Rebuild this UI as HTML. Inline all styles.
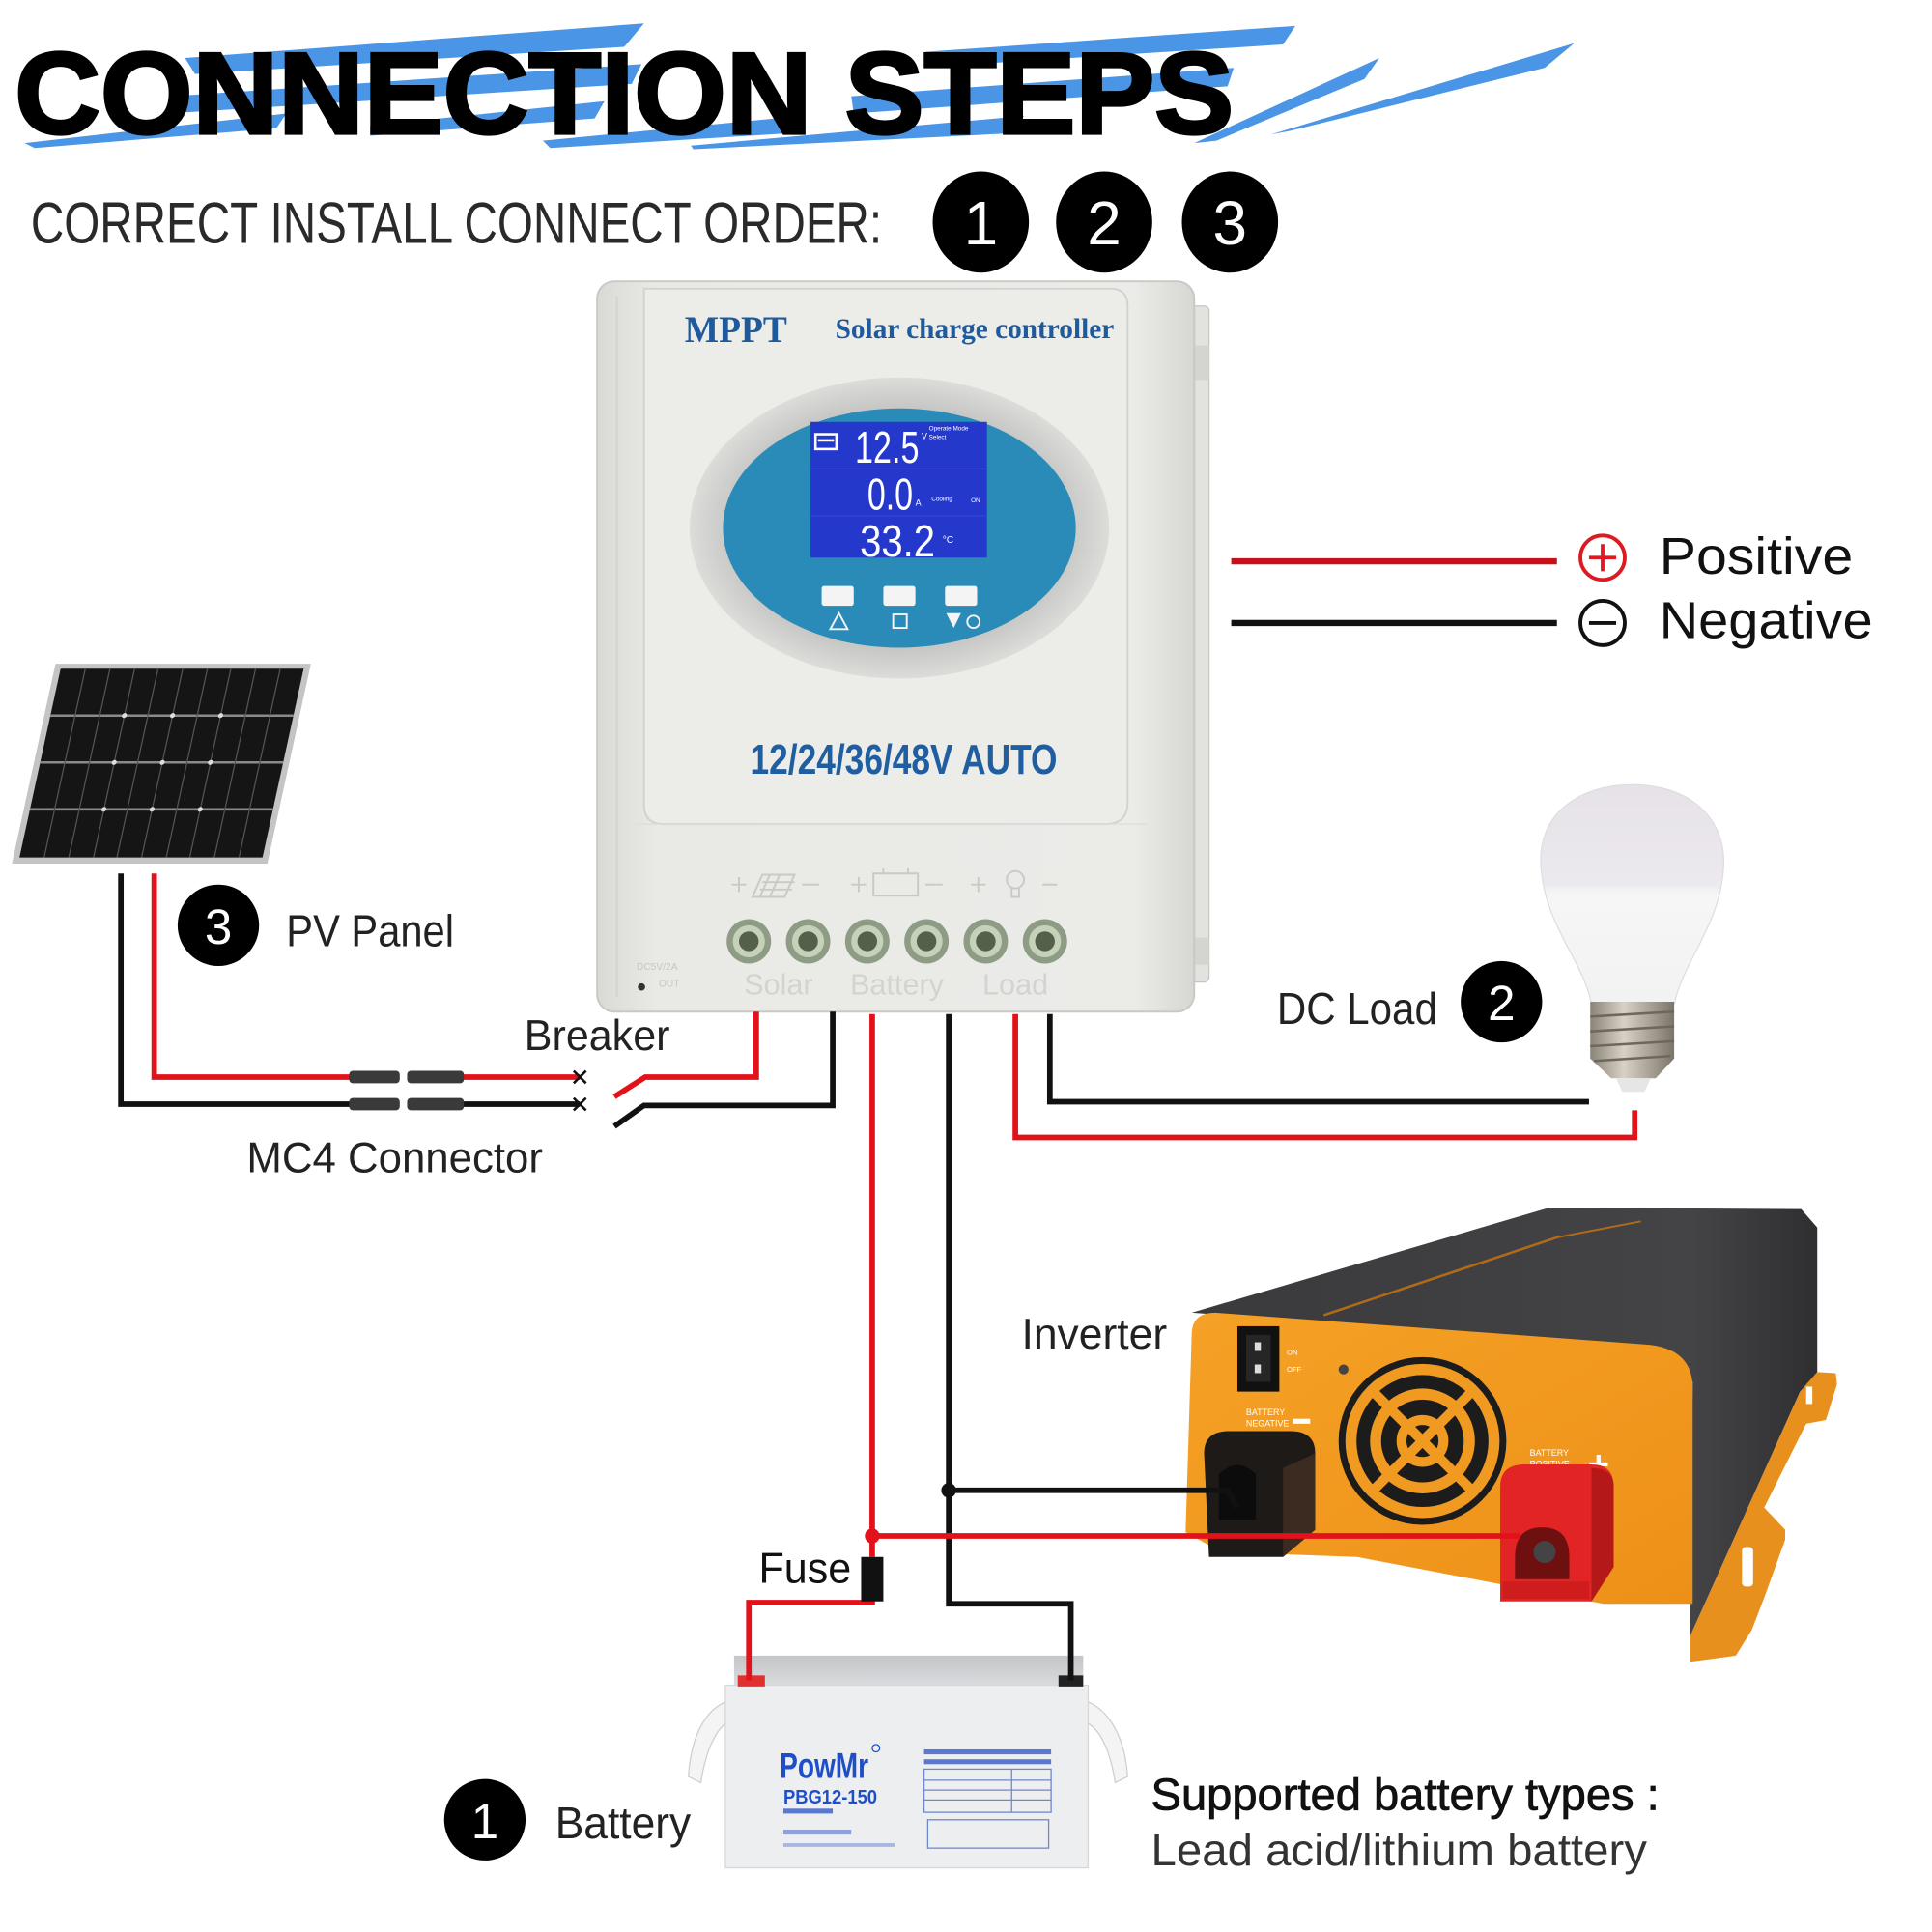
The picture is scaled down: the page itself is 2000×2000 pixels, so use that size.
<!DOCTYPE html>
<html><head><meta charset="utf-8"><style>
html,body{margin:0;padding:0;background:#fff;width:2000px;height:2000px;overflow:hidden}
svg{display:block}
</style></head><body>
<svg width="2000" height="2000" viewBox="0 0 1566 1566" xmlns="http://www.w3.org/2000/svg" font-family="'Liberation Sans', sans-serif">
<defs>
<linearGradient id="bodyG" x1="0" x2="1" y1="0" y2="0"><stop offset="0" stop-color="#d9d9d5"/><stop offset="0.1" stop-color="#e9e9e6"/><stop offset="0.9" stop-color="#ebebe8"/><stop offset="1" stop-color="#d6d6d2"/></linearGradient>
<radialGradient id="ringG" cx="0.5" cy="0.5" r="0.5"><stop offset="0.8" stop-color="#c6c7c5"/><stop offset="1" stop-color="#dcdcd9"/></radialGradient>
<linearGradient id="orG" x1="0" x2="1" y1="0" y2="1"><stop offset="0" stop-color="#f5a126"/><stop offset="1" stop-color="#ee9018"/></linearGradient>
<linearGradient id="darkG" x1="0" x2="1" y1="0" y2="0"><stop offset="0" stop-color="#3a3a3c"/><stop offset="0.8" stop-color="#444446"/><stop offset="1" stop-color="#2f2f31"/></linearGradient>
<linearGradient id="bulbG" x1="0" x2="0" y1="0" y2="1"><stop offset="0" stop-color="#e6e2e8"/><stop offset="0.45" stop-color="#ece9ee"/><stop offset="0.5" stop-color="#f6f6f6"/><stop offset="1" stop-color="#f2f2f2"/></linearGradient>
<linearGradient id="metalG" x1="0" x2="1" y1="0" y2="0"><stop offset="0" stop-color="#8a8378"/><stop offset="0.4" stop-color="#d8d2c6"/><stop offset="1" stop-color="#7a746a"/></linearGradient>
<linearGradient id="lidG" x1="0" x2="0" y1="0" y2="1"><stop offset="0" stop-color="#c4c5c7"/><stop offset="1" stop-color="#dcdde0"/></linearGradient>
</defs>
<rect width="1566" height="1566" fill="#fff"/>

<!-- title brush strokes -->
<g fill="#4a95e6">
<polygon points="150,47 522,19 506,38 158,60"/>
<polygon points="20,116 232,92 224,104 28,120"/>
<polygon points="140,78 520,52 512,68 136,92"/>
<polygon points="300,102 490,82 482,96 300,110"/>
<polygon points="440,114 650,94 640,108 446,120"/>
<polygon points="560,118 830,94 820,108 562,121"/>
<polygon points="750,42 1050,21 1040,36 758,54"/>
<polygon points="690,78 1000,55 995,70 692,92"/>
<polygon points="968,116 1118,47 1106,64 986,114"/>
<polygon points="1030,109 1276,35 1252,55 1046,106"/>
</g>
<text x="12" y="108" font-size="94" font-weight="bold" textLength="988" lengthAdjust="spacingAndGlyphs" fill="#000" stroke="#000" stroke-width="2.5">CONNECTION STEPS</text>

<!-- subtitle -->
<text x="25" y="197" font-size="47" textLength="690" lengthAdjust="spacingAndGlyphs" fill="#2a2a2a">CORRECT INSTALL CONNECT ORDER:</text>
<g fill="#000">
<ellipse cx="795" cy="180" rx="39" ry="41"/><ellipse cx="895" cy="180" rx="39" ry="41"/><ellipse cx="997" cy="180" rx="39" ry="41"/>
</g>
<g fill="#fff" font-size="50" text-anchor="middle">
<text x="795" y="198">1</text><text x="895" y="198">2</text><text x="997" y="198">3</text>
</g>

<!-- controller -->
<g>
<rect x="962" y="248" width="18" height="548" rx="4" fill="#e2e2de" stroke="#c6c6c2"/>
<rect x="966" y="280" width="14" height="28" fill="#d4d4d0"/>
<rect x="966" y="760" width="14" height="22" fill="#d4d4d0"/>
<rect x="484" y="228" width="484" height="592" rx="14" fill="url(#bodyG)" stroke="#c8c8c4" stroke-width="1.5"/>
<line x1="500" y1="240" x2="500" y2="808" stroke="#d2d2ce" stroke-width="1.5"/>
<path d="M522,234 H900 Q914,234 914,248 V650 Q914,668 896,668 H538 Q522,668 522,652 Z" fill="#ecece9" stroke="#d2d2ce" stroke-width="1.5"/>
<path d="M515,668 H930" stroke="#dcdcd8" stroke-width="1"/>
<text x="555" y="277" font-family="'Liberation Serif', serif" font-weight="bold" font-size="31" textLength="83" lengthAdjust="spacingAndGlyphs" fill="#1f5b9c">MPPT</text>
<text x="677" y="274" font-family="'Liberation Serif', serif" font-weight="bold" font-size="23" textLength="226" lengthAdjust="spacingAndGlyphs" fill="#1f5b9c">Solar charge controller</text>
<ellipse cx="729" cy="428" rx="170" ry="122" fill="url(#ringG)"/>
<ellipse cx="729" cy="428" rx="143" ry="97" fill="#2a8bb8"/>
<rect x="657" y="342" width="143" height="110" fill="#2538cc"/>
<line x1="657" y1="380" x2="800" y2="380" stroke="#3346d8" stroke-width="1"/>
<line x1="657" y1="418" x2="800" y2="418" stroke="#3346d8" stroke-width="1"/>
<rect x="661" y="352" width="17" height="12" fill="none" stroke="#fff" stroke-width="2"/>
<rect x="663" y="356" width="13" height="2" fill="#fff"/>
<g fill="#fff">
<text x="693" y="375" font-size="36" textLength="52" lengthAdjust="spacingAndGlyphs">12.5</text>
<text x="703" y="413" font-size="36" textLength="37" lengthAdjust="spacingAndGlyphs">0.0</text>
<text x="697" y="451" font-size="36" textLength="61" lengthAdjust="spacingAndGlyphs">33.2</text>
<text x="747" y="356" font-size="7">V</text>
<text x="742" y="410" font-size="7">A</text>
<text x="764" y="440" font-size="8">°C</text>
<text x="753" y="349" font-size="5">Operate Mode</text>
<text x="753" y="356" font-size="5">Select</text>
<text x="755" y="406" font-size="5">Cooling</text>
<text x="787" y="407" font-size="5">ON</text>
</g>
<g fill="#f4f4f4">
<rect x="666" y="475" width="26" height="16" rx="2"/>
<rect x="716" y="475" width="26" height="16" rx="2"/>
<rect x="766" y="475" width="26" height="16" rx="2"/>
</g>
<g fill="none" stroke="#f4f4f4" stroke-width="1.5">
<polygon points="680,497 673,510 687,510"/>
<rect x="724" y="498" width="11" height="11"/>
<circle cx="789" cy="504" r="5"/>
</g>
<polygon points="767,497 779,497 773,509" fill="#f4f4f4"/>
<text x="608" y="627" font-size="34" font-weight="bold" textLength="249" lengthAdjust="spacingAndGlyphs" fill="#1f5ea0">12/24/36/48V AUTO</text>
<g fill="none" stroke="#c9c9c5" stroke-width="1.5">
<path d="M593,717 h12 M599,711 v12"/><path d="M610,727 l8,-18 h26 l-8,18 z M618,715 h26 M616,721 h26 M624,709 l-8,18 M632,709 l-8,18"/><path d="M650,717 h14"/>
<path d="M690,717 h12 M696,711 v12"/><rect x="708" y="708" width="36" height="18"/><path d="M716,708 v-4 M736,708 v-4"/><path d="M750,717 h14"/>
<path d="M787,717 h12 M793,711 v12"/><circle cx="823" cy="713" r="7"/><path d="M820,720 v7 h6 v-7"/><path d="M845,717 h12"/>
</g>
<g>
<g transform="translate(607,763)"><circle r="18" fill="#8e9b85"/><circle r="13" fill="#c6d1b9"/><circle r="8" fill="#55604a"/></g>
<g transform="translate(655,763)"><circle r="18" fill="#8e9b85"/><circle r="13" fill="#c6d1b9"/><circle r="8" fill="#55604a"/></g>
<g transform="translate(703,763)"><circle r="18" fill="#8e9b85"/><circle r="13" fill="#c6d1b9"/><circle r="8" fill="#55604a"/></g>
<g transform="translate(751,763)"><circle r="18" fill="#8e9b85"/><circle r="13" fill="#c6d1b9"/><circle r="8" fill="#55604a"/></g>
<g transform="translate(799,763)"><circle r="18" fill="#8e9b85"/><circle r="13" fill="#c6d1b9"/><circle r="8" fill="#55604a"/></g>
<g transform="translate(847,763)"><circle r="18" fill="#8e9b85"/><circle r="13" fill="#c6d1b9"/><circle r="8" fill="#55604a"/></g>
</g>
<g fill="#d3d3cf" font-size="24" text-anchor="middle">
<text x="631" y="806">Solar</text><text x="727" y="806">Battery</text><text x="823" y="806">Load</text>
</g>
<text x="516" y="786" font-size="8" fill="#c6c6c2">DC5V/2A</text>
<text x="534" y="800" font-size="8" fill="#c6c6c2">OUT</text>
<circle cx="520" cy="800" r="3" fill="#333"/>
</g>

<!-- legend -->
<line x1="998" y1="455" x2="1262" y2="455" stroke="#c8101c" stroke-width="5"/>
<line x1="998" y1="505" x2="1262" y2="505" stroke="#111" stroke-width="5"/>
<circle cx="1299" cy="452" r="18" fill="none" stroke="#dd1a22" stroke-width="3"/>
<path d="M1288,452 h22 M1299,441 v22" stroke="#dd1a22" stroke-width="3"/>
<circle cx="1299" cy="505" r="18" fill="none" stroke="#111" stroke-width="3"/>
<path d="M1288,505 h22" stroke="#111" stroke-width="3"/>
<text x="1345" y="465" font-size="42" textLength="157" lengthAdjust="spacingAndGlyphs" fill="#111">Positive</text>
<text x="1345" y="517" font-size="42" textLength="173" lengthAdjust="spacingAndGlyphs" fill="#111">Negative</text>

<!-- solar panel -->
<g transform="translate(45,538) skewX(-12.3)">
<rect x="0" y="0" width="207" height="162" fill="#c4c4c4"/>
<rect x="5" y="4" width="197" height="153" fill="#151515"/>
<g stroke="#8a8a8a" stroke-width="2"><line x1="5" y1="42" x2="202" y2="42"/><line x1="5" y1="80" x2="202" y2="80"/><line x1="5" y1="118" x2="202" y2="118"/></g>
<g stroke="#555" stroke-width="1">
<line x1="25" y1="4" x2="25" y2="157"/><line x1="45" y1="4" x2="45" y2="157"/><line x1="65" y1="4" x2="65" y2="157"/><line x1="84" y1="4" x2="84" y2="157"/><line x1="104" y1="4" x2="104" y2="157"/><line x1="124" y1="4" x2="124" y2="157"/><line x1="143" y1="4" x2="143" y2="157"/><line x1="163" y1="4" x2="163" y2="157"/><line x1="183" y1="4" x2="183" y2="157"/>
</g>
<g fill="#ddd"><circle cx="65" cy="42" r="2"/><circle cx="104" cy="42" r="2"/><circle cx="143" cy="42" r="2"/><circle cx="65" cy="80" r="2"/><circle cx="104" cy="80" r="2"/><circle cx="143" cy="80" r="2"/><circle cx="65" cy="118" r="2"/><circle cx="104" cy="118" r="2"/><circle cx="143" cy="118" r="2"/></g>
</g>

<!-- labels circles -->
<circle cx="177" cy="750" r="33" fill="#000"/><text x="177" y="765" font-size="40" fill="#fff" text-anchor="middle">3</text>
<text x="232" y="767" font-size="36" textLength="136" lengthAdjust="spacingAndGlyphs" fill="#222">PV Panel</text>
<text x="425" y="851" font-size="35" textLength="118" lengthAdjust="spacingAndGlyphs" fill="#222">Breaker</text>
<text x="200" y="950" font-size="35" textLength="240" lengthAdjust="spacingAndGlyphs" fill="#222">MC4 Connector</text>
<text x="1035" y="830" font-size="36" textLength="130" lengthAdjust="spacingAndGlyphs" fill="#222">DC Load</text>
<circle cx="1217" cy="812" r="33" fill="#000"/><text x="1217" y="827" font-size="40" fill="#fff" text-anchor="middle">2</text>
<text x="828" y="1093" font-size="35" textLength="118" lengthAdjust="spacingAndGlyphs" fill="#222">Inverter</text>
<text x="615" y="1283" font-size="35" textLength="75" lengthAdjust="spacingAndGlyphs" fill="#111">Fuse</text>
<circle cx="393" cy="1475" r="33" fill="#000"/><text x="393" y="1490" font-size="40" fill="#fff" text-anchor="middle">1</text>
<text x="450" y="1490" font-size="36" textLength="110" lengthAdjust="spacingAndGlyphs" fill="#222">Battery</text>
<text x="933" y="1467" font-size="36" textLength="412" lengthAdjust="spacingAndGlyphs" fill="#111" stroke="#111" stroke-width="0.6">Supported battery types :</text>
<text x="933" y="1512" font-size="36" textLength="402" lengthAdjust="spacingAndGlyphs" fill="#333">Lead acid/lithium battery</text>

<!-- bulb -->
<g>
<path d="M1290,814 C1284,780 1252,750 1249,702 C1246,660 1280,636 1323,636 C1368,636 1400,662 1397,704 C1394,750 1364,780 1357,814 Z" fill="url(#bulbG)" stroke="#e0dde2" stroke-width="1"/>
<path d="M1289,812 H1357 V858 L1342,874 H1306 L1289,858 Z" fill="url(#metalG)"/>
<g stroke="#6d675d" stroke-width="2"><line x1="1289" y1="824" x2="1357" y2="820"/><line x1="1289" y1="836" x2="1357" y2="832"/><line x1="1289" y1="848" x2="1357" y2="844"/><line x1="1292" y1="860" x2="1354" y2="856"/></g>
<path d="M1310,874 H1338 L1333,885 H1315 Z" fill="#e6e6e6"/>
</g>

<!-- inverter -->
<g>
<polygon points="1459,1128 1470,1112 1488,1113 1489,1122 1480,1151 1464,1154 1430,1222 1447,1240 1447,1248 1430,1295 1420,1321 1407,1342 1370,1347 1370,1326" fill="#e8901e"/>
<rect x="1464" y="1124" width="5" height="14" fill="#fff"/>
<rect x="1412" y="1254" width="9" height="32" rx="3" fill="#fff"/>
<polygon points="966,1064 1255,979 1460,980 1473,995 1473,1112 1459,1128 1370,1326 1372,1120 1339,1091" fill="url(#darkG)"/>
<line x1="1073" y1="1066" x2="1265" y2="1002" stroke="#b06a1a" stroke-width="2"/>
<line x1="1262" y1="1003" x2="1330" y2="990" stroke="#b06a1a" stroke-width="1.5"/>
<path d="M961,1242 L966,1080 Q967,1064 985,1064 L1337,1090 Q1372,1094 1372,1125 L1372,1300 L1300,1300 L1100,1262 L990,1258 Z" fill="url(#orG)"/>
<circle cx="1153" cy="1168" r="68" fill="#1c1c1c"/>
<g fill="none" stroke="#f09a22">
<circle cx="1153" cy="1168" r="58" stroke-width="9"/>
<circle cx="1153" cy="1168" r="38" stroke-width="9"/>
<circle cx="1153" cy="1168" r="17" stroke-width="8"/>
<path d="M1112,1127 L1194,1209 M1194,1127 L1112,1209" stroke-width="8"/>
</g>
<rect x="1003" y="1075" width="34" height="53" fill="#111"/>
<rect x="1010" y="1082" width="20" height="38" fill="#262626"/>
<rect x="1017" y="1088" width="5" height="7" fill="#ddd"/><rect x="1017" y="1106" width="5" height="7" fill="#ddd"/>
<text x="1043" y="1098" font-size="6" fill="#fff">ON</text>
<text x="1043" y="1112" font-size="6" fill="#fff">OFF</text>
<circle cx="1089" cy="1110" r="4" fill="#444"/>
<text x="1010" y="1147" font-size="7" fill="#fff">BATTERY</text>
<text x="1010" y="1156" font-size="7" fill="#fff">NEGATIVE</text>
<rect x="1048" y="1150" width="14" height="4" fill="#fff"/>
<text x="1240" y="1180" font-size="7" fill="#fff">BATTERY</text>
<text x="1240" y="1189" font-size="7" fill="#fff">POSITIVE</text>
<text x="1287" y="1197" font-size="30" font-weight="bold" fill="#fff">+</text>
<path d="M976,1178 Q976,1160 996,1160 H1046 Q1066,1160 1066,1178 V1240 L1040,1262 H980 Z" fill="#1e1a18"/>
<path d="M1066,1178 V1240 L1040,1262 V1190 Z" fill="#3c2b20"/>
<path d="M988,1195 Q1003,1180 1018,1195 V1232 H988 Z" fill="#0c0c0c"/>
<path d="M1216,1205 Q1216,1187 1236,1187 H1290 Q1308,1187 1308,1205 V1270 L1290,1298 H1216 Z" fill="#e32424"/>
<path d="M1290,1190 Q1308,1190 1308,1205 V1270 L1290,1298 Z" fill="#b51818"/>
<path d="M1228,1262 Q1228,1238 1250,1238 Q1272,1238 1272,1262 V1280 H1228 Z" fill="#6e1010"/>
<circle cx="1252" cy="1258" r="9" fill="#444"/>
<rect x="1218" y="1282" width="70" height="14" fill="#cf1c1c"/>
</g>

<!-- battery -->
<g>
<path d="M592,1378 C570,1385 560,1410 558,1440 L568,1445 C572,1420 580,1400 592,1395 Z" fill="#f4f4f4" stroke="#cfcfcf"/>
<path d="M878,1378 C900,1385 912,1410 914,1440 L904,1445 C900,1420 892,1400 878,1395 Z" fill="#f4f4f4" stroke="#cfcfcf"/>
<rect x="595" y="1342" width="283" height="26" fill="url(#lidG)"/>
<rect x="588" y="1366" width="294" height="148" fill="#eceef0" stroke="#d6d7d9"/>
<rect x="598" y="1358" width="22" height="9" fill="#e03030"/>
<rect x="858" y="1358" width="20" height="9" fill="#222"/>
<text x="632" y="1441" font-size="29" font-weight="bold" textLength="72" lengthAdjust="spacingAndGlyphs" fill="#1f4fc8">PowMr</text>
<circle cx="710" cy="1417" r="3" fill="none" stroke="#1f4fc8"/>
<text x="635" y="1462" font-size="16" font-weight="bold" textLength="76" lengthAdjust="spacingAndGlyphs" fill="#1f4fc8">PBG12-150</text>
<rect x="635" y="1466" width="40" height="4" fill="#5a78d0"/>
<rect x="635" y="1483" width="55" height="4" fill="#8ea0d8"/>
<rect x="635" y="1494" width="90" height="3" fill="#a8b6e0"/>
<g fill="none" stroke="#6d86d0" stroke-width="1">
<rect x="749" y="1434" width="103" height="35"/>
<rect x="752" y="1475" width="98" height="23"/>
<line x1="749" y1="1443" x2="852" y2="1443"/><line x1="749" y1="1451" x2="852" y2="1451"/><line x1="749" y1="1459" x2="852" y2="1459"/>
<line x1="820" y1="1434" x2="820" y2="1469"/>
</g>
<rect x="749" y="1418" width="103" height="4" fill="#5a78d0"/>
<rect x="749" y="1426" width="103" height="4" fill="#5a78d0"/>
</g>

<!-- wires -->
<g fill="none" stroke-width="4.5" stroke-linejoin="miter">
<path d="M125,708 V873 H290 M375,873 H470" stroke="#e3121a"/>
<path d="M98,708 V895 H290 M375,895 H470" stroke="#111"/>
<path d="M498,889 L523,873 H613 V820" stroke="#e3121a"/>
<path d="M498,913 L522,896 H675 V820" stroke="#111"/>
<path d="M707,822 V1262" stroke="#e3121a"/>
<path d="M707,1297 V1299 H607 V1362" stroke="#e3121a"/>
<path d="M769,822 V1300 H868 V1362" stroke="#111"/>
<path d="M769,1208 H995 L1003,1222" stroke="#111"/>
<path d="M707,1245 H1232" stroke="#e3121a"/>
<path d="M823,822 V922 H1325 V900" stroke="#e3121a"/>
<path d="M851,822 V893 H1288" stroke="#111"/>
</g>
<g stroke="#111" stroke-width="2">
<path d="M465,868 l10,10 M475,868 l-10,10"/>
<path d="M465,890 l10,10 M475,890 l-10,10"/>
</g>
<g fill="#3a3a3a">
<rect x="283" y="868" width="41" height="10" rx="3"/><rect x="330" y="868" width="46" height="10" rx="3"/>
<rect x="283" y="890" width="41" height="10" rx="3"/><rect x="330" y="890" width="46" height="10" rx="3"/>
</g>
<circle cx="707" cy="1245" r="6" fill="#e3121a"/>
<circle cx="769" cy="1208" r="6" fill="#111"/>
<rect x="698" y="1262" width="18" height="36" fill="#111"/>
</svg>
</body></html>
